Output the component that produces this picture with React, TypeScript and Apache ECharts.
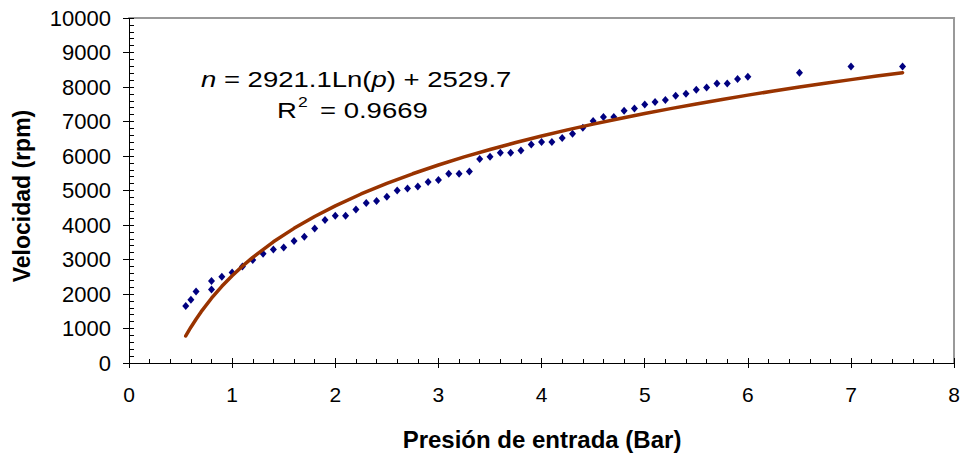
import React, { useEffect, useRef } from "react";
import * as echarts from "echarts";

// Measured points: pressure (Bar) and speed (rpm)
const presion = [
  0.55, 0.6, 0.65, 0.8, 0.8, 0.9, 1.0, 1.1, 1.2, 1.3, 1.4, 1.5, 1.6, 1.7, 1.8, 1.9,
  2.0, 2.1, 2.2, 2.3, 2.4, 2.5, 2.6, 2.7, 2.8, 2.9, 3.0, 3.1, 3.2, 3.3, 3.4, 3.5,
  3.6, 3.7, 3.8, 3.9, 4.0, 4.1, 4.2, 4.3, 4.4, 4.5, 4.6, 4.7, 4.8, 4.9, 5.0, 5.1,
  5.2, 5.3, 5.4, 5.5, 5.6, 5.7, 5.8, 5.9, 6.0, 6.5, 7.0, 7.5,
];
const velocidad = [
  1652, 1835, 2075, 2133, 2377, 2501, 2626, 2800, 2985, 3168, 3293, 3351, 3536, 3661, 3897, 4145,
  4270, 4270, 4452, 4638, 4696, 4820, 5003, 5061, 5119, 5246, 5304, 5487, 5487, 5550, 5913, 5980,
  6096, 6096, 6162, 6336, 6406, 6406, 6522, 6646, 6820, 7014, 7130, 7130, 7313, 7375, 7496, 7565,
  7623, 7748, 7806, 7922, 7988, 8104, 8104, 8232, 8299, 8415, 8597, 8597,
];

// Logarithmic trend line
const trendX = [
  0.55, 0.6, 0.65, 0.7, 0.8, 0.9, 1.0, 1.1, 1.2, 1.4, 1.6, 1.8, 2.0, 2.25, 2.5, 2.75,
  3.0, 3.25, 3.5, 3.75, 4.0, 4.25, 4.5, 4.75, 5.0, 5.25, 5.5, 5.75, 6.0, 6.25, 6.5,
  6.75, 7.0, 7.25, 7.5,
];
const trendY = [
  783, 1038, 1270, 1488, 1878, 2222, 2530, 2808, 3062, 3513, 3903, 4247, 4555, 4899, 5207, 5485,
  5739, 5973, 6189, 6391, 6579, 6756, 6923, 7081, 7231, 7373, 7509, 7639, 7764, 7883, 7997,
  8107, 8214, 8316, 8416,
];

const xTicks = { min: 0, max: 8, interval: 1, minorSplits: 5 };
const yTicks = { min: 0, max: 10000, interval: 1000, minorSplits: 5 };

const xTitle = "Presión de entrada (Bar)";
const yTitle = "Velocidad (rpm)";
const eqText = "{i|n} = 2921.1Ln({i|p}) + 2529.7";
const r2Parts = ["R", "2", "= 0.9669"];

const FONT = "'Liberation Sans', Arial, sans-serif";

export default function App() {
  const ref = useRef<HTMLDivElement>(null);
  useEffect(() => {
    if (!ref.current) return;
    const chart = echarts.init(ref.current, null, { renderer: "svg" });
    const grid = { left: 129, right: 7, top: 18, bottom: 91 };
    const scatterData = presion.map((p, i) => [p, velocidad[i]]);
    const trendData = trendX.map((p, i) => [p, trendY[i]]);
    const hiddenLabel = { show: false };
    const plain = (v: number) => String(v);
    const black = { color: "#000000", width: 1, opacity: 1 };
    chart.setOption({
      animation: false,
      backgroundColor: "#ffffff",
      grid: { ...grid, containLabel: false, show: false },
      xAxis: [
        {
          type: "value",
          min: xTicks.min,
          max: xTicks.max,
          interval: xTicks.interval,
          position: "bottom",
          axisLine: { show: true, onZero: false, lineStyle: black },
          axisTick: { show: true, inside: true, length: 5, lineStyle: black },
          minorTick: { show: true, splitNumber: xTicks.minorSplits, length: 4, lineStyle: black },
          axisLabel: { show: true, margin: 21, fontSize: 21, color: "#000", fontFamily: FONT, formatter: plain },
          splitLine: { show: false },
          minorSplitLine: { show: false },
        },
        {
          type: "value",
          min: xTicks.min,
          max: xTicks.max,
          interval: xTicks.interval,
          position: "top",
          axisLine: { show: true, onZero: false, lineStyle: { color: "#999999", width: 2 } },
          axisTick: { show: false },
          axisLabel: hiddenLabel,
          splitLine: { show: false },
        },
        {
          type: "value",
          min: xTicks.min,
          max: xTicks.max,
          interval: xTicks.interval,
          position: "bottom",
          axisLine: { show: false, onZero: false },
          axisTick: { show: true, inside: false, length: 5, lineStyle: black },
          axisLabel: hiddenLabel,
          splitLine: { show: false },
        },
      ],
      yAxis: [
        {
          type: "value",
          min: yTicks.min,
          max: yTicks.max,
          interval: yTicks.interval,
          position: "left",
          axisLine: { show: true, onZero: false, lineStyle: black },
          axisTick: { show: true, inside: true, length: 5, lineStyle: black },
          minorTick: { show: true, splitNumber: yTicks.minorSplits, length: 5, lineStyle: black },
          axisLabel: { show: true, margin: 18, fontSize: 22, color: "#000", fontFamily: FONT, formatter: plain },
          splitLine: { show: false },
          minorSplitLine: { show: false },
        },
        {
          type: "value",
          min: yTicks.min,
          max: yTicks.max,
          interval: yTicks.interval,
          position: "right",
          axisLine: { show: true, onZero: false, lineStyle: { color: "#999999", width: 2 } },
          axisTick: { show: false },
          axisLabel: hiddenLabel,
          splitLine: { show: false },
        },
        {
          type: "value",
          min: yTicks.min,
          max: yTicks.max,
          interval: yTicks.interval,
          position: "left",
          axisLine: { show: false, onZero: false },
          axisTick: { show: true, inside: false, length: 6, lineStyle: black },
          axisLabel: hiddenLabel,
          splitLine: { show: false },
        },
      ],
      series: [
        {
          type: "scatter",
          name: "Datos",
          xAxisIndex: 0,
          yAxisIndex: 0,
          data: scatterData,
          symbol: "diamond",
          symbolSize: [7, 8],
          itemStyle: { color: "#000080", opacity: 1 },
          z: 3,
        },
        {
          type: "line",
          name: "Tendencia",
          xAxisIndex: 0,
          yAxisIndex: 0,
          data: trendData,
          showSymbol: false,
          symbol: "none",
          lineStyle: { color: "#993300", width: 3.5, cap: "round", join: "round" },
          z: 4,
        },
      ],
      graphic: [
        {
          type: "text",
          x: 201,
          y: 79,
          scaleX: 1.25,
          style: {
            text: eqText,
            fontSize: 22,
            fontFamily: FONT,
            fill: "#000",
            textAlign: "left",
            textVerticalAlign: "middle",
            rich: { i: { fontStyle: "italic", fontSize: 22, fontFamily: FONT } },
          },
        },
        {
          type: "text",
          x: 277,
          y: 110,
          scaleX: 1.25,
          style: { text: r2Parts[0], fontSize: 22, fontFamily: FONT, fill: "#000", textAlign: "left", textVerticalAlign: "middle" },
        },
        {
          type: "text",
          x: 298,
          y: 102,
          scaleX: 1.25,
          style: { text: r2Parts[1], fontSize: 14, fontFamily: FONT, fill: "#000", textAlign: "left", textVerticalAlign: "middle" },
        },
        {
          type: "text",
          x: 320,
          y: 110,
          scaleX: 1.25,
          style: { text: r2Parts[2], fontSize: 22, fontFamily: FONT, fill: "#000", textAlign: "left", textVerticalAlign: "middle" },
        },
        {
          type: "text",
          x: 542,
          y: 439,
          style: { text: xTitle, fontSize: 24, fontWeight: "bold", fontFamily: FONT, fill: "#000", textAlign: "center", textVerticalAlign: "middle" },
        },
        {
          type: "text",
          x: 22,
          y: 196,
          rotation: Math.PI / 2,
          style: { text: yTitle, fontSize: 23, fontWeight: "bold", fontFamily: FONT, fill: "#000", textAlign: "center", textVerticalAlign: "middle" },
        },
      ],
    });
    return () => chart.dispose();
  }, []);
  return (
    <div
      ref={ref}
      style={{ position: "absolute", left: 0, top: 0, width: 963, height: 454, background: "#fff" }}
    />
  );
}
